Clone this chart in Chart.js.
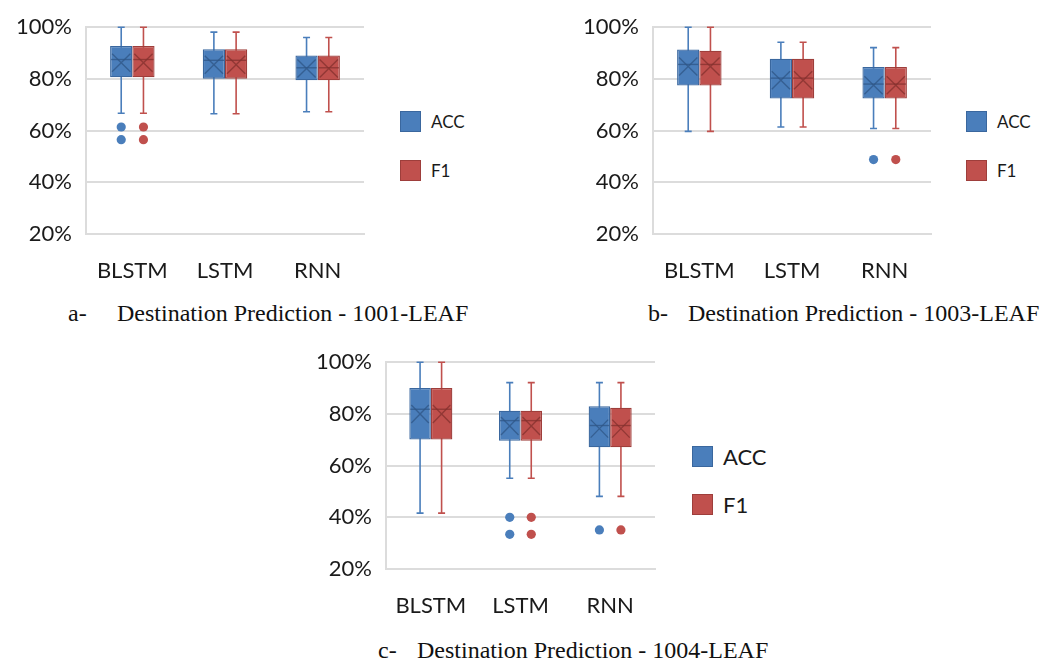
<!DOCTYPE html>
<html>
<head>
<meta charset="utf-8">
<script src="https://cdn.jsdelivr.net/npm/chart.js@4/dist/chart.umd.min.js"></script>
<style>
  body { margin: 0; background: #fff; width: 1040px; height: 660px; position: relative; overflow: hidden; }
  canvas { position: absolute; }
  .legend { position: absolute; font-family: Lato, "Open Sans", sans-serif; color: #1a1a1a; }
  .legend .item { position: absolute; left: 0; white-space: nowrap; }
  .legend .sw { position: absolute; left: 0; box-sizing: border-box; border: 1px solid; }
  .legend .lbl { position: absolute; }
  .cap { position: absolute; font-family: "Liberation Serif", "Times New Roman", serif; font-size: 24px; color: #111; white-space: nowrap; line-height: 28px; }
</style>
</head>
<body>
<canvas id="chartA" width="380" height="290" style="left:0;top:0"></canvas>
<canvas id="chartB" width="380" height="290" style="left:567px;top:0"></canvas>
<canvas id="chartC" width="371" height="290" style="left:300px;top:335px"></canvas>

<div class="legend" id="legA" style="left:400px;top:111px"></div>
<div class="legend" id="legB" style="left:966px;top:111px"></div>
<div class="legend" id="legC" style="left:692px;top:446px"></div>

<div class="cap" style="left:68px;top:299px">a-</div>
<div class="cap" style="left:117px;top:299px">Destination Prediction - 1001-LEAF</div>
<div class="cap" style="left:648px;top:299px">b-</div>
<div class="cap" style="left:688px;top:299px">Destination Prediction - 1003-LEAF</div>
<div class="cap" style="left:378px;top:636px">c-</div>
<div class="cap" style="left:417px;top:636px">Destination Prediction - 1004-LEAF</div>

<script>
const categories = ['BLSTM', 'LSTM', 'RNN'];
const seriesNames = ['ACC', 'F1'];

// each row: [min, q1, median, q3, max, mean] in %
const acc1001 = [[66.7, 80.6, 87.5, 92.7, 100, 86.2], [66.5, 80.1, 87.2, 91.5, 98.1, 85.5], [67.3, 79.5, 84.3, 89.1, 96.0, 84.0]];
const f1_1001 = [[66.7, 80.6, 87.5, 92.7, 100, 86.2], [66.5, 80.1, 87.2, 91.5, 98.1, 85.5], [67.3, 79.5, 84.3, 89.1, 96.0, 84.0]];
const accOut1001 = [[61.4, 56.5], [], []];
const f1Out1001 = [[61.4, 56.5], [], []];

const acc1003 = [[59.7, 77.4, 85.6, 91.4, 100, 84.8], [61.4, 72.4, 80.3, 87.8, 94.2, 79.5], [60.8, 72.4, 78.0, 84.6, 92.1, 77.5]];
const f1_1003 = [[59.7, 77.4, 85.6, 90.9, 100, 84.8], [61.4, 72.4, 80.3, 87.8, 94.2, 79.5], [60.8, 72.4, 78.0, 84.6, 92.1, 77.5]];
const accOut1003 = [[], [], [48.8]];
const f1Out1003 = [[], [], [48.8]];

const acc1004 = [[41.6, 70.1, 81.8, 90.0, 100, 80.0], [55.1, 69.6, 77.4, 81.2, 92.1, 75.3], [48.1, 67.1, 75.5, 83.0, 92.1, 74.3]];
const f1_1004 = [[41.6, 70.1, 81.8, 90.0, 100, 80.0], [55.1, 69.6, 77.4, 81.2, 92.1, 75.3], [48.1, 67.1, 75.5, 82.4, 92.1, 74.3]];
const accOut1004 = [[], [40.0, 33.4], [35.1]];
const f1Out1004 = [[], [40.0, 33.4], [35.1]];

const yTicks = [20, 40, 60, 80, 100];

const BLUE = '#4a7ebb', BLUE_EDGE = '#3a679e', BLUE_MARK = '#2f5686';
const RED = '#c0504d', RED_EDGE = '#9e3e3b', RED_MARK = '#83302e';
const GRID = '#dcdcdc';
const TEXT = '#1a1a1a';
const FONT = 'Lato, "Open Sans", sans-serif';

// whiskers behind the boxes, median / mean / outliers on top
const boxPlugin = {
  id: 'boxExtras',
  beforeDatasetsDraw(chart) {
    const ctx = chart.ctx, y = chart.scales.y;
    chart.data.datasets.forEach((ds, i) => {
      chart.getDatasetMeta(i).data.forEach((bar, j) => {
        const s = ds.stats[j];
        const { x } = bar.getProps(['x'], true);
        const top = y.getPixelForValue(s[4]);
        const bot = y.getPixelForValue(s[0]);
        ctx.save();
        ctx.strokeStyle = ds.whiskerColor;
        ctx.lineWidth = 1.6;
        ctx.beginPath();
        ctx.moveTo(x, top); ctx.lineTo(x, bot);
        ctx.moveTo(x - 3.5, top); ctx.lineTo(x + 3.5, top);
        ctx.moveTo(x - 3.5, bot); ctx.lineTo(x + 3.5, bot);
        ctx.stroke();
        ctx.restore();
      });
    });
  },
  afterDatasetsDraw(chart) {
    const ctx = chart.ctx, y = chart.scales.y;
    chart.data.datasets.forEach((ds, i) => {
      chart.getDatasetMeta(i).data.forEach((bar, j) => {
        const s = ds.stats[j];
        const { x, width } = bar.getProps(['x', 'width'], true);
        const hw = width / 2;
        const med = y.getPixelForValue(s[2]);
        const mean = y.getPixelForValue(s[5]);
        ctx.save();
        ctx.strokeStyle = ds.markColor;
        ctx.globalAlpha = 0.75;
        ctx.lineWidth = 1.4;
        ctx.beginPath();
        ctx.moveTo(x - hw + 1, med); ctx.lineTo(x + hw - 1, med);
        ctx.stroke();
        const mx = hw - 2, my = 9;
        ctx.beginPath();
        ctx.moveTo(x - mx, mean - my); ctx.lineTo(x + mx, mean + my);
        ctx.moveTo(x - mx, mean + my); ctx.lineTo(x + mx, mean - my);
        ctx.stroke();
        ctx.globalAlpha = 1;
        ctx.fillStyle = ds.whiskerColor;
        ds.outliers[j].forEach(v => {
          ctx.beginPath();
          ctx.arc(x, y.getPixelForValue(v), 4.6, 0, Math.PI * 2);
          ctx.fill();
        });
        ctx.restore();
      });
    });
  }
};

function makePanel(id, acc, f1, accOut, f1Out) {
  const series = [acc, f1];
  const outs = [accOut, f1Out];
  const fills = [BLUE, RED], edges = [BLUE_EDGE, RED_EDGE], marks = [BLUE_MARK, RED_MARK];
  return new Chart(document.getElementById(id), {
    type: 'bar',
    data: {
      labels: categories,
      datasets: seriesNames.map((name, k) => ({
        label: name,
        data: series[k].map(s => [s[1], s[3]]),
        stats: series[k],
        outliers: outs[k],
        backgroundColor: fills[k],
        borderColor: edges[k],
        borderWidth: 1.3,
        borderSkipped: false,
        whiskerColor: fills[k],
        markColor: marks[k],
        categoryPercentage: 0.48,
        barPercentage: 1.0
      }))
    },
    options: {
      responsive: false,
      animation: false,
      layout: { padding: { top: 22, right: 16, left: 0, bottom: 0 } },
      plugins: { legend: { display: false }, tooltip: { enabled: false } },
      scales: {
        x: {
          grid: { display: false },
          border: { display: true, color: GRID, width: 2 },
          ticks: { padding: 16, color: TEXT, font: { family: FONT, size: 22 } },
          afterFit: s => { s.height = 56; }
        },
        y: {
          min: 20,
          max: 100,
          afterBuildTicks: s => { s.ticks = yTicks.map(v => ({ value: v })); },
          ticks: { callback: v => v + '%', padding: 14, color: TEXT, font: { family: FONT, size: 22 } },
          grid: { color: GRID, lineWidth: 2, drawTicks: false },
          border: { color: GRID, width: 2 },
          afterFit: s => { s.width = 86; }
        }
      }
    },
    plugins: [boxPlugin]
  });
}

function makeLegend(id, size, fontSize, gap, textLeft) {
  const el = document.getElementById(id);
  const fills = [BLUE, RED], edges = [BLUE_EDGE, RED_EDGE];
  seriesNames.forEach((name, k) => {
    const item = document.createElement('div');
    item.className = 'item';
    item.style.top = (k * gap) + 'px';
    item.innerHTML = `<div class="sw" style="width:${size}px;height:${size}px;background:${fills[k]};border-color:${edges[k]}"></div>` +
      `<div class="lbl" style="left:${textLeft}px;top:0;height:${size}px;line-height:${size}px;font-size:${fontSize}px">${name}</div>`;
    el.appendChild(item);
  });
}

makePanel('chartA', acc1001, f1_1001, accOut1001, f1Out1001);
makePanel('chartB', acc1003, f1_1003, accOut1003, f1Out1003);
makePanel('chartC', acc1004, f1_1004, accOut1004, f1Out1004);

makeLegend('legA', 21, 17, 49, 31);
makeLegend('legB', 21, 17, 49, 31);
makeLegend('legC', 21, 22, 48, 31);
</script>
</body>
</html>
